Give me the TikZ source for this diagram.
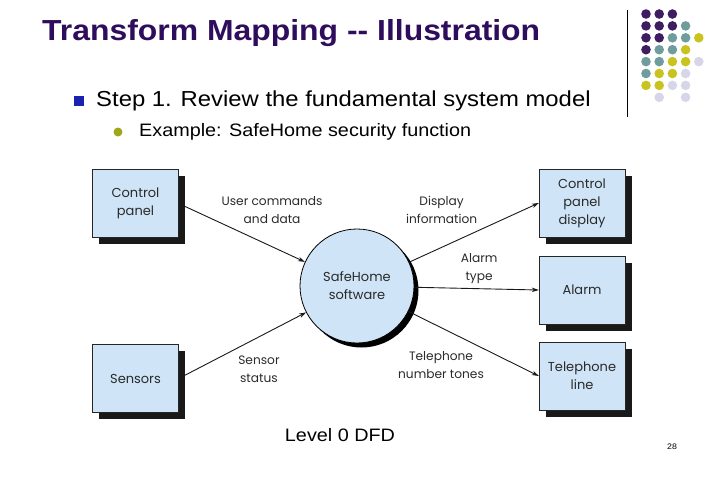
\documentclass[tikz,border=0pt]{standalone}
\usepackage{xcolor}
\usepackage{fontspec}
\usepackage{tikz}
\usetikzlibrary{arrows.meta,positioning,shadows}
\newfontfamily\slidefont{Liberation Sans}[FakeStretch=1.1]
\newfontfamily\dfdfont{Poppins}
\definecolor{titlepurple}{HTML}{2E0E5C}
\definecolor{bulletblue}{HTML}{1C22B0}
\definecolor{bulletolive}{HTML}{9EA61A}
\definecolor{boxblue}{HTML}{CFE4F6}
\definecolor{darktext}{HTML}{2A2A2A}
\definecolor{dotpurple}{HTML}{3F1D62}
\definecolor{dotteal}{HTML}{6F9C9C}
\definecolor{dotyellow}{HTML}{C9C31F}
\definecolor{dotlav}{HTML}{D6D6E8}
\tikzset{
  % Slide text
  slidetitle/.style={anchor=west,inner sep=0pt,text=titlepurple,
                     font=\slidefont\bfseries\fontsize{29}{33}\selectfont},
  lvlone/.style={anchor=west,inner sep=0pt,font=\slidefont\fontsize{21.7}{26}\selectfont},
  lvltwo/.style={anchor=west,inner sep=0pt,font=\slidefont\fontsize{18}{22}\selectfont},
  sqbullet/.style={fill=bulletblue,minimum size=10.5pt,inner sep=0pt},
  dotbullet/.style={fill=bulletolive,circle,minimum size=9pt,inner sep=0pt},
  % External entities
  ext/.style={draw=black!85,thin,fill=boxblue,minimum width=86pt,minimum height=68pt,
              align=center,text=darktext,font=\dfdfont\fontsize{13}{18}\selectfont,
              drop shadow={shadow xshift=6.5pt,shadow yshift=-6.5pt,fill=black!90,opacity=1}},
  % Process bubble
  proc/.style={draw=black,thick,fill=boxblue,circle,minimum size=114pt,inner sep=0pt,
               align=center,text=darktext,font=\dfdfont\fontsize{13}{18}\selectfont,
               drop shadow={shadow xshift=4.5pt,shadow yshift=-4.5pt,fill=black,opacity=1}},
  % Connectors & labels
  fl/.style={-{Stealth[length=7pt,width=4.5pt]},black!90,line width=0.9pt},
  fllb/.style={font=\dfdfont\fontsize{12.2}{18}\selectfont,text=darktext,inner sep=1pt,align=center}
}

\begin{document}
\begin{tikzpicture}[x=1pt,y=-1pt]
  \useasboundingbox (0,0) rectangle (720,480);

  % --- Slide header ---
  \node[slidetitle] (title) at (42,33) {Transform Mapping -- Illustration};
  \draw[black,line width=1pt] (627,10) -- (627,117);
  \foreach \col/\row/\clr in {0/0/dotpurple,1/0/dotpurple,2/0/dotpurple,
      0/1/dotpurple,1/1/dotpurple,2/1/dotpurple,3/1/dotteal,
      0/2/dotpurple,1/2/dotpurple,2/2/dotteal,3/2/dotteal,4/2/dotyellow,
      0/3/dotpurple,1/3/dotteal,2/3/dotteal,3/3/dotyellow,
      0/4/dotteal,1/4/dotteal,2/4/dotyellow,3/4/dotyellow,4/4/dotlav,
      0/5/dotteal,1/5/dotyellow,2/5/dotyellow,3/5/dotlav,
      0/6/dotyellow,1/6/dotyellow,2/6/dotlav,3/6/dotlav,
      1/7/dotlav,3/7/dotlav}
    \fill[\clr] (646+13.2*\col,14+11.9*\row) circle (4.8);

  % --- Bullets ---
  \node[sqbullet]  (b1) at (79,101) {};
  \node[lvlone]    (step) at (96,101) {Step 1. Review the fundamental system model};
  \node[dotbullet] (b2) at (118,132) {};
  \node[lvltwo]    (example) at (139,132) {Example: SafeHome security function};

  % --- Nodes ---
  \node[ext]  (cp)    at (135.5,203.5) {Control\\panel};
  \node[ext]  (sens)  at (135.5,378.5) {Sensors};
  \node[proc] (sw)    at (357,286)     {SafeHome\\software};
  \node[ext]  (cpd)   at (582,203)     {Control\\panel\\display};
  \node[ext]  (alarm) at (582,290)     {Alarm};
  \node[ext]  (tel)   at (582,376)     {Telephone\\line};

  % --- Flows in ---
  \draw[fl] (cp.east)   -- node[pos=0.74,above=22pt,fllb] {User commands\\and data} (sw);
  \draw[fl] (sens.east) -- node[pos=0.63,below=18pt,fllb] {Sensor\\status} (sw);

  % --- Flows out ---
  \draw[fl] (sw) -- node[pos=0.25,above=22pt,fllb] {Display\\information} (cpd.west);
  \draw[fl] (sw) -- node[pos=0.52,above=4pt,fllb] {Alarm\\type} (alarm.west);
  \draw[fl] (sw) -- node[pos=0.25,below=22pt,fllb] {Telephone\\number tones} (tel.west);

  % --- Caption & page number ---
  \node[lvltwo,anchor=center] (cap) at (340,435) {Level 0 DFD};
  \node[font=\slidefont\fontsize{8}{10}\selectfont] (page) at (672,447) {28};
\end{tikzpicture}
\end{document}
